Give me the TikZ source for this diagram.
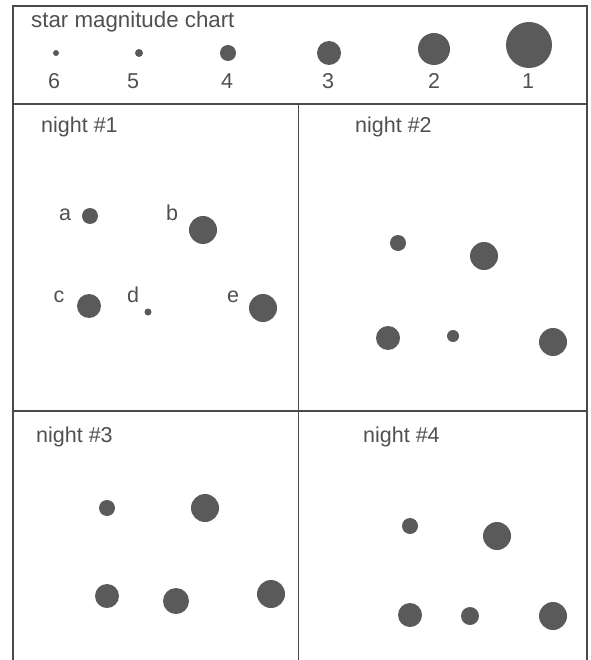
\documentclass[tikz,border=0pt]{standalone}
\usepackage{fontspec}
\setmainfont{Liberation Sans}
\definecolor{stargray}{HTML}{5A5A5A}
\definecolor{linegray}{HTML}{4A4A4A}
\definecolor{textgray}{HTML}{505050}
\begin{document}
\begin{tikzpicture}[x=1pt,y=-1pt,
  dot/.style={circle, fill=stargray, draw=none, inner sep=0pt, minimum size=#1},
  lbl/.style={font=\fontsize{21.5}{24}\selectfont, text=textgray, inner sep=0pt},
  frameline/.style={draw=linegray, line width=1.6pt}]
\useasboundingbox (0,0) rectangle (590,660);
% frame
\coordinate (tl) at (13,6);
\coordinate (tr) at (587,6);
\coordinate (bl) at (13,660);
\coordinate (br) at (587,660);
\coordinate (ml) at (13,104);
\coordinate (mr) at (587,104);
\coordinate (ll) at (13,411);
\coordinate (lr) at (587,411);
\coordinate (vt) at (298.5,104);
\coordinate (vb) at (298.5,660);
\draw[frameline] (bl) -- (tl) -- (tr) -- (br);
\draw[frameline] (ml) -- (mr);
\draw[frameline] (ll) -- (lr);
\draw[frameline] (vt) -- (vb);
% magnitude chart
\node[lbl, font=\fontsize{22.3}{25}\selectfont, anchor=base west] (title) at (31,28) {star magnitude chart};
\node[dot=6] (m6) at (56,53) {};
\node[dot=8] (m5) at (139,53) {};
\node[dot=16] (m4) at (228,53) {};
\node[dot=24] (m3) at (329,53) {};
\node[dot=32] (m2) at (434,49) {};
\node[dot=46] (m1) at (529,45) {};
\node[lbl, anchor=base] (n6) at (54,89) {6};
\node[lbl, anchor=base] (n5) at (133,89) {5};
\node[lbl, anchor=base] (n4) at (227,89) {4};
\node[lbl, anchor=base] (n3) at (328,89) {3};
\node[lbl, anchor=base] (n2) at (434,89) {2};
\node[lbl, anchor=base] (n1) at (528,89) {1};
% night 1
\node[lbl, anchor=base west] (t1) at (41,133) {night \#1};
\node[dot=16] (s1a) at (90,216) {};
\node[dot=28] (s1b) at (203,230) {};
\node[dot=24] (s1c) at (89,306) {};
\node[dot=7] (s1d) at (148,312) {};
\node[dot=28] (s1e) at (263,308) {};
\node[lbl, anchor=base] (la) at (65,220) {a};
\node[lbl, anchor=base] (lb) at (172,220) {b};
\node[lbl, anchor=base] (lc) at (59,302) {c};
\node[lbl, anchor=base] (ld) at (133,302) {d};
\node[lbl, anchor=base] (le) at (233,302) {e};
% night 2
\node[lbl, anchor=base west] (t2) at (355,133) {night \#2};
\node[dot=16] (s2a) at (398,243) {};
\node[dot=28] (s2b) at (484,256) {};
\node[dot=24] (s2c) at (388,338) {};
\node[dot=12] (s2d) at (453,336) {};
\node[dot=28] (s2e) at (553,342) {};
% night 3
\node[lbl, anchor=base west] (t3) at (36,442) {night \#3};
\node[dot=16] (s3a) at (107,508) {};
\node[dot=28] (s3b) at (205,508) {};
\node[dot=24] (s3c) at (107,596) {};
\node[dot=26] (s3d) at (176,601) {};
\node[dot=28] (s3e) at (271,594) {};
% night 4
\node[lbl, anchor=base west] (t4) at (363,442) {night \#4};
\node[dot=16] (s4a) at (410,526) {};
\node[dot=28] (s4b) at (497,536) {};
\node[dot=24] (s4c) at (410,615) {};
\node[dot=18] (s4d) at (470,616) {};
\node[dot=28] (s4e) at (553,616) {};
\end{tikzpicture}
\end{document}
